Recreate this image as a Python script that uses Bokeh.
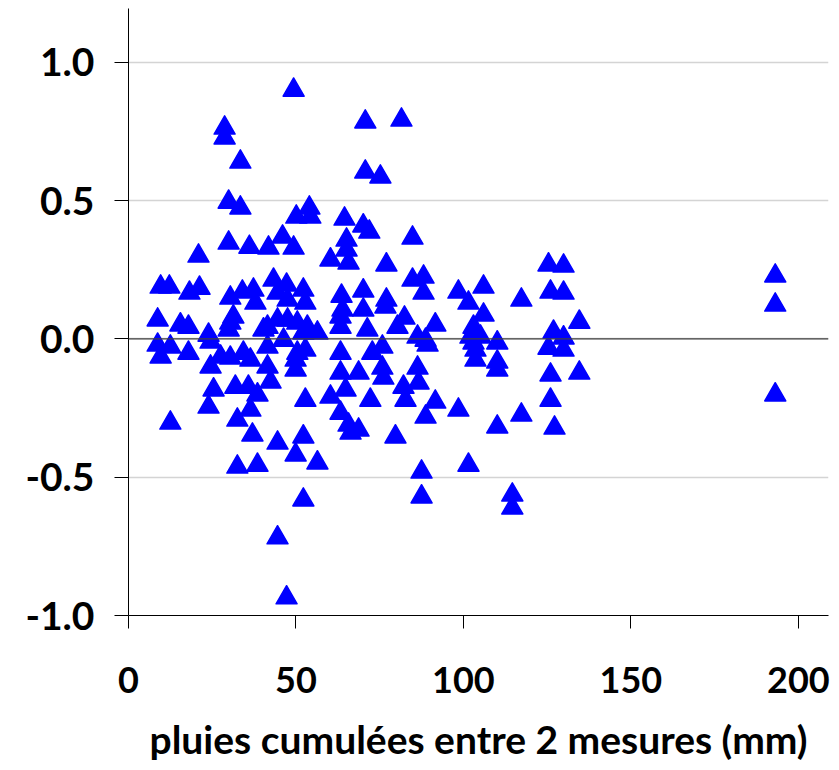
from bokeh.plotting import figure
from bokeh.models import Range1d, FixedTicker, Span, ColumnDataSource
from bokeh.embed import file_html
from bokeh.resources import INLINE

# cumulative rainfall between two measurements (mm)
rain_mm = [
    49.3, 28.7, 28.7, 33.4, 70.7, 81.5, 70.7, 75.2, 29.9, 33.4, 50.1, 54.0, 54.3, 64.5, 70.1, 71.9,
    84.8, 20.9, 29.9, 36.1, 41.8, 46.0, 49.3, 65.1, 65.1, 60.3, 65.7, 77.0,
    9.6, 12.2, 18.2, 21.2, 30.4, 34.0, 37.3, 37.9, 43.3, 44.5, 47.2, 47.5, 52.2, 52.8, 63.6, 70.1,
    77.0, 84.8, 88.1, 88.1, 98.5, 101.5, 106.0, 117.3, 125.4, 129.9, 126.0, 129.9, 193.1, 193.1,
    8.7, 15.5, 17.9, 23.9, 30.4, 31.3, 29.9, 40.3, 41.5, 44.5, 47.5, 46.3, 50.4, 52.2, 53.4, 56.4,
    63.3, 63.3, 63.9, 70.1, 71.3, 76.7, 80.3, 82.4, 86.3, 88.7, 91.6, 89.3, 103.0, 106.0, 102.1,
    105.1, 134.6, 126.9, 129.9,
    8.7, 9.6, 12.5, 17.9, 24.5, 24.5, 27.5, 30.4, 34.3, 36.4, 41.5, 41.5, 49.9, 49.9, 50.4, 52.8,
    63.3, 63.3, 68.7, 72.8, 75.8, 75.8, 76.1, 86.3, 103.0, 103.6, 103.6, 110.1, 110.1, 110.1,
    125.4, 129.9,
    12.5, 25.4, 23.9, 31.9, 32.5, 35.8, 38.5, 36.4, 37.0, 42.4, 44.5, 52.8, 52.2, 60.3, 64.8,
    63.3, 65.7, 66.3, 68.7, 72.2, 79.7, 82.1, 82.7, 86.6, 91.6, 88.7, 98.5, 110.1, 117.3, 126.0,
    134.6, 126.0, 127.2, 193.1,
    32.5, 38.5, 49.9, 56.4, 52.2, 44.5, 47.2, 87.5, 87.5, 101.5, 114.6, 114.6,
]

# measured deviation
deviation = [
    0.900, 0.763, 0.727, 0.640, 0.785, 0.792, 0.604, 0.586, 0.495, 0.474, 0.441, 0.474, 0.441, 0.434, 0.409, 0.387,
    0.365, 0.300, 0.347, 0.332, 0.329, 0.369, 0.329, 0.358, 0.322, 0.286, 0.275, 0.268,
    0.188, 0.188, 0.166, 0.184, 0.148, 0.170, 0.177, 0.130, 0.213, 0.166, 0.195, 0.141, 0.177, 0.130, 0.155, 0.174,
    0.141, 0.213, 0.224, 0.166, 0.170, 0.130, 0.188, 0.141, 0.268, 0.264, 0.170, 0.166, 0.228, 0.123,
    0.069, 0.051, 0.043, 0.014, 0.058, 0.080, 0.033, 0.033, 0.043, 0.069, 0.069, -0.004, 0.058, 0.022, 0.043, 0.022,
    0.080, 0.043, 0.105, 0.105, 0.033, 0.116, 0.043, 0.076, 0.007, -0.004, 0.051, -0.022, 0.043, 0.087, 0.007,
    0.007, 0.061, 0.025, 0.004,
    -0.022, -0.065, -0.029, -0.051, -0.011, -0.101, -0.065, -0.069, -0.051, -0.076, -0.029, -0.101, -0.076, -0.112, -0.051, -0.040,
    -0.051, -0.123, -0.123, -0.051, -0.029, -0.105, -0.141, -0.105, -0.014, -0.040, -0.076, -0.014, -0.083, -0.112,
    -0.033, -0.040,
    -0.304, -0.184, -0.246, -0.174, -0.293, -0.174, -0.202, -0.257, -0.347, -0.155, -0.376, -0.221, -0.354, -0.210, -0.184,
    -0.268, -0.311, -0.340, -0.329, -0.221, -0.354, -0.174, -0.221, -0.159, -0.228, -0.282, -0.257, -0.318, -0.275, -0.130,
    -0.123, -0.221, -0.322, -0.202,
    -0.463, -0.456, -0.419, -0.448, -0.582, -0.719, -0.936, -0.481, -0.571, -0.456, -0.564, -0.611,
]

x_ticks = [0, 50, 100, 150, 200]
y_ticks = [-1.0, -0.5, 0.0, 0.5, 1.0]
y_tick_labels = ["-1.0", "-0.5", "0.0", "0.5", "1.0"]
x_label = "pluies cumulées entre 2 mesures (mm)"

FONT = "Lato"

src = ColumnDataSource(data=dict(x=rain_mm, y=deviation))

p = figure(
    width=831, height=764,
    x_range=Range1d(0, 209), y_range=Range1d(-1.0, 1.195),
    output_backend="svg", toolbar_location=None,
    min_border_left=128, min_border_right=3, min_border_top=8,
)
p.outline_line_color = None
p.background_fill_color = "white"
p.border_fill_color = "white"

# grid: horizontal only
p.xgrid.grid_line_color = None
p.ygrid.ticker = FixedTicker(ticks=y_ticks)
p.ygrid.grid_line_color = "#d4d4d4"
p.ygrid.grid_line_width = 1.5

zero_line = Span(location=0.0, dimension="width", line_color="#404040", line_width=1.3)
p.add_layout(zero_line)

p.scatter("x", "y", source=src, marker="triangle", size=21,
          fill_color="#0000ff", line_color="#0000ff", line_width=1.5, line_join="round")

# x axis
xa = p.xaxis[0]
xa.ticker = FixedTicker(ticks=x_ticks)
xa.axis_label = x_label
xa.axis_label_text_font = FONT
xa.axis_label_text_font_style = "bold"
xa.axis_label_text_font_size = "39px"
xa.axis_label_text_color = "black"
xa.axis_label_standoff = 20
xa.major_label_text_font = FONT
xa.major_label_text_font_style = "bold"
xa.major_label_text_font_size = "36px"
xa.major_label_text_color = "black"
xa.major_label_standoff = 38
xa.major_tick_out = 13
xa.major_tick_in = 0
xa.minor_tick_line_color = None
xa.axis_line_color = "black"
xa.major_tick_line_color = "black"

# y axis
ya = p.yaxis[0]
ya.ticker = FixedTicker(ticks=y_ticks)
ya.major_label_overrides = {t: l for t, l in zip(y_ticks, y_tick_labels)}
ya.major_label_text_font = FONT
ya.major_label_text_font_style = "bold"
ya.major_label_text_font_size = "39px"
ya.major_label_text_color = "black"
ya.major_label_standoff = 20
ya.major_tick_out = 14
ya.major_tick_in = 0
ya.minor_tick_line_color = None
ya.axis_line_color = "black"
ya.major_tick_line_color = "black"

open("out.html", "w").write(file_html(p, INLINE))
